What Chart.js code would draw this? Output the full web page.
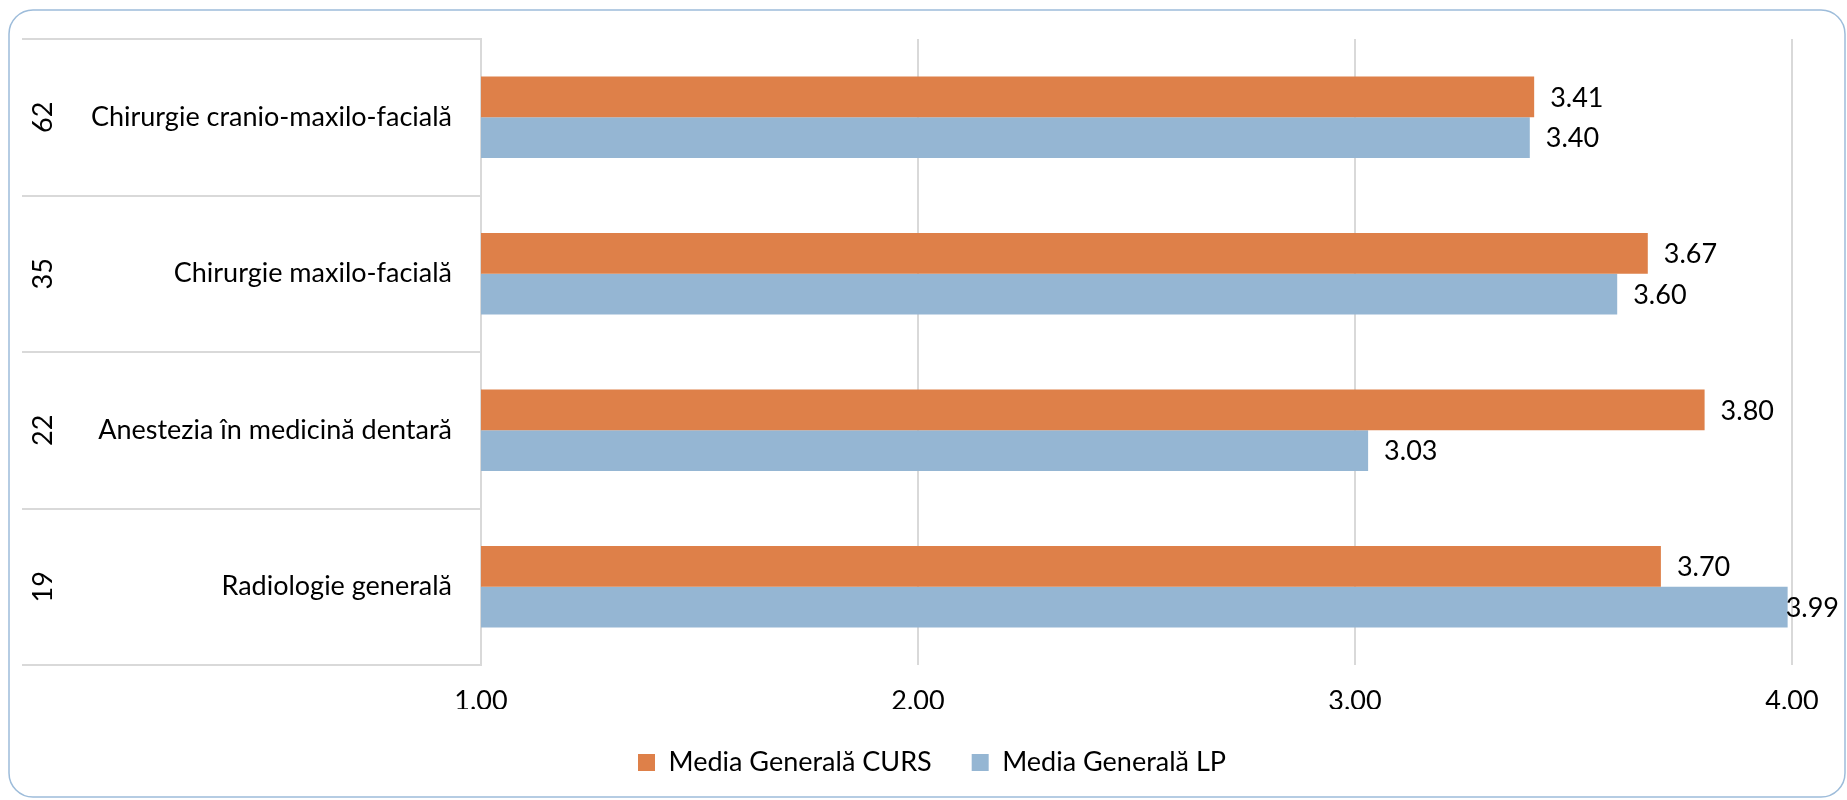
<!DOCTYPE html>
<html>
<head>
<meta charset="utf-8">
<script src="https://cdn.jsdelivr.net/npm/chart.js@4"></script>
<style>
  html, body { margin: 0; padding: 0; background: #fff; }
  #wrap { width: 1847px; height: 800px; }
</style>
</head>
<body>
<div id="wrap"><canvas id="chart" width="1847" height="800"></canvas></div>
<script>
// date
const categories = [
  "Chirurgie cranio-maxilo-facială",
  "Chirurgie maxilo-facială",
  "Anestezia în medicină dentară",
  "Radiologie generală",
];
const groupNumbers = ["62", "35", "22", "19"];
const mediaCurs = [3.41, 3.67, 3.8, 3.7];
const mediaLp = [3.4, 3.6, 3.03, 3.99];
const seriesNames = ["Media Generală CURS", "Media Generală LP"];
const xTicks = [1, 2, 3, 4];

const FONT = "Lato, 'Open Sans', sans-serif";
const FONT_SIZE = 27;
const GRID = "#D9D9D9";
const LEFT_PAD = 72;

// chenar rotunjit in jurul graficului
const framePlugin = {
  id: "frame",
  beforeDraw(chart) {
    const ctx = chart.ctx;
    ctx.save();
    ctx.fillStyle = "#fff";
    ctx.fillRect(0, 0, chart.width, chart.height);
    ctx.strokeStyle = "#9DBCDA";
    ctx.lineWidth = 1.5;
    ctx.beginPath();
    ctx.roundRect(9, 10, chart.width - 11, chart.height - 13, 24);
    ctx.stroke();
    ctx.restore();
  },
};

// linii de separare intre categorii + numerele rotite
const groupsPlugin = {
  id: "groups",
  afterDraw(chart) {
    const ctx = chart.ctx;
    const y = chart.scales.y;
    const left = chart.chartArea.left;
    ctx.save();
    ctx.strokeStyle = GRID;
    ctx.lineWidth = 2;
    for (let i = 0; i <= categories.length; i++) {
      const py = Math.round(y.getPixelForValue(i - 0.5));
      ctx.beginPath();
      ctx.moveTo(22, py);
      ctx.lineTo(left, py);
      ctx.stroke();
    }
    ctx.fillStyle = "#000";
    ctx.font = `${FONT_SIZE}px ${FONT}`;
    ctx.textAlign = "center";
    ctx.textBaseline = "middle";
    groupNumbers.forEach((num, i) => {
      ctx.save();
      ctx.translate(43, y.getPixelForValue(i));
      ctx.rotate(-Math.PI / 2);
      ctx.fillText(num, 0, 0);
      ctx.restore();
    });
    ctx.restore();
  },
};

// etichete cu valori la capatul barelor
const valueLabels = {
  id: "valueLabels",
  afterDatasetsDraw(chart) {
    const ctx = chart.ctx;
    ctx.save();
    ctx.fillStyle = "#000";
    ctx.font = `${FONT_SIZE}px ${FONT}`;
    ctx.textAlign = "left";
    ctx.textBaseline = "middle";
    chart.data.datasets.forEach((ds, di) => {
      chart.getDatasetMeta(di).data.forEach((bar, i) => {
        const txt = ds.data[i].toFixed(2);
        const w = ctx.measureText(txt).width;
        const x = Math.min(bar.x + 16, chart.width - 8 - w);
        ctx.fillText(txt, x, bar.y + 1);
      });
    });
    ctx.restore();
  },
};

const ctx = document.getElementById("chart").getContext("2d");
new Chart(ctx, {
  type: "bar",
  data: {
    labels: categories,
    datasets: [
      {
        label: seriesNames[0],
        data: mediaCurs,
        backgroundColor: "#DE8049",
        categoryPercentage: 0.52,
        barPercentage: 1,
      },
      {
        label: seriesNames[1],
        data: mediaLp,
        backgroundColor: "#95B6D3",
        categoryPercentage: 0.52,
        barPercentage: 1,
      },
    ],
  },
  options: {
    indexAxis: "y",
    responsive: false,
    animation: false,
    layout: { padding: { top: 39, right: 55, bottom: 14, left: LEFT_PAD } },
    font: { family: FONT },
    scales: {
      x: {
        min: 1,
        max: 4,
        afterBuildTicks: (s) => { s.ticks = xTicks.map((v) => ({ value: v })); },
        afterFit: (s) => { s.height = 44; },
        grid: { color: GRID, lineWidth: 2, drawTicks: false },
        border: { display: false },
        ticks: {
          padding: 20,
          color: "#000",
          font: { family: FONT, size: FONT_SIZE },
          callback: (v) => Number(v).toFixed(2),
        },
      },
      y: {
        afterFit: (s) => {
          s.width = 481 - LEFT_PAD;
          s.paddingTop = 0;
          s.paddingBottom = 0;
        },
        grid: { display: true, drawOnChartArea: false, drawTicks: false },
        border: { display: true, color: GRID, width: 2 },
        ticks: {
          padding: 29,
          color: "#000",
          font: { family: FONT, size: FONT_SIZE },
        },
      },
    },
    plugins: {
      legend: {
        position: "bottom",
        labels: {
          boxWidth: 17,
          boxHeight: 17,
          padding: 40,
          color: "#000",
          font: { family: FONT, size: FONT_SIZE },
        },
      },
      tooltip: { enabled: false },
    },
  },
  plugins: [framePlugin, groupsPlugin, valueLabels],
});
</script>
</body>
</html>
